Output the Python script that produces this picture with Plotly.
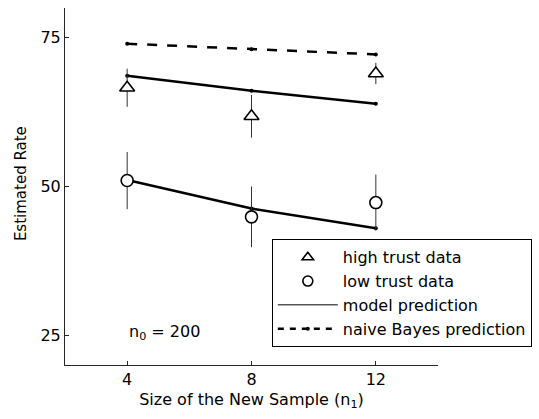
import plotly.graph_objects as go

n1 = [4, 8, 12]
high_trust = [66.6, 61.8, 69.0]
high_err = [3.2, 3.6, 1.8]
low_trust = [51.0, 44.9, 47.3]
low_err = [4.8, 5.1, 4.7]
model_high = [68.6, 66.1, 63.9]
model_low = [51.1, 46.3, 43.0]
naive_bayes = [74.0, 73.05, 72.2]

FONT = "DejaVu Sans, Liberation Sans, Arial, sans-serif"
fs = 16

fig = go.Figure()

# prediction lines
fig.add_trace(go.Scatter(x=n1, y=naive_bayes, mode="lines+markers",
                         line=dict(color="black", width=2.5, dash="10px,10px"),
                         marker=dict(size=4, color="black"), showlegend=False))
for ys in (model_high, model_low):
    fig.add_trace(go.Scatter(x=n1, y=ys, mode="lines+markers",
                             line=dict(color="black", width=2.5),
                             marker=dict(size=4, color="black"), showlegend=False))

# data with error bars
fig.add_trace(go.Scatter(x=n1, y=high_trust, mode="markers",
                         error_y=dict(type="data", array=high_err, width=0, thickness=1, color="#333"),
                         marker=dict(symbol="triangle-up", size=13, color="white",
                                     line=dict(color="black", width=1.6)),
                         showlegend=False))
fig.add_trace(go.Scatter(x=n1, y=low_trust, mode="markers",
                         error_y=dict(type="data", array=low_err, width=0, thickness=1, color="#333"),
                         marker=dict(symbol="circle", size=12, color="white",
                                     line=dict(color="black", width=1.6)),
                         showlegend=False))

# legend entries
fig.add_trace(go.Scatter(x=[None], y=[None], mode="markers", name="high trust data",
                         marker=dict(symbol="triangle-up", size=10, color="white",
                                     line=dict(color="black", width=1.6))))
fig.add_trace(go.Scatter(x=[None], y=[None], mode="markers", name="low trust data",
                         marker=dict(symbol="circle", size=10, color="white",
                                     line=dict(color="black", width=1.6))))
fig.add_trace(go.Scatter(x=[None], y=[None], mode="lines", name="model prediction",
                         line=dict(color="black", width=1)))
fig.add_trace(go.Scatter(x=[None], y=[None], mode="lines+markers", name="naive Bayes prediction",
                         line=dict(color="black", width=2.5, dash="6px,6px"),
                         marker=dict(size=4, color="black")))

fig.add_annotation(x=4, y=25.5, xref="x", yref="y", text="n<sub>0</sub> = 200",
                   showarrow=False, xanchor="left", yanchor="middle",
                   font=dict(family=FONT, size=fs, color="black"))

# y-axis title
fig.add_annotation(x=-(65 - 21) / 374, y=(365 - 184) / 357, xref="paper", yref="paper",
                   text="Estimated Rate", textangle=-90, showarrow=False,
                   xanchor="center", yanchor="middle",
                   font=dict(family=FONT, size=15, color="black"))

axis_common = dict(showline=True, linecolor="#262626", linewidth=1, ticks="inside",
                   ticklen=4, tickcolor="#262626", showgrid=False, zeroline=False,
                   tickfont=dict(family=FONT, size=fs, color="black"), mirror=False)

fig.update_xaxes(range=[2, 14], tickvals=[4, 8, 12], ticktext=["4", "8", "12"],
                 title=dict(text="Size of the New Sample (n<sub>1</sub>)",
                            font=dict(family=FONT, size=fs, color="black"), standoff=5),
                 **axis_common)
fig.update_yaxes(range=[20, 80], tickvals=[25, 50, 75], ticktext=["25", "50", "75"],
                 **axis_common)

fig.update_layout(
    width=539, height=419,
    margin=dict(l=65, r=100, t=8, b=54),
    paper_bgcolor="white", plot_bgcolor="white",
    font=dict(family=FONT, size=fs, color="black"),
    legend=dict(x=0.553, y=0.352, xanchor="left", yanchor="top",
                bgcolor="white", bordercolor="black", borderwidth=1,
                font=dict(family=FONT, size=fs, color="black"),
                itemwidth=60, tracegroupgap=0),
)

fig.write_html("out.html")
